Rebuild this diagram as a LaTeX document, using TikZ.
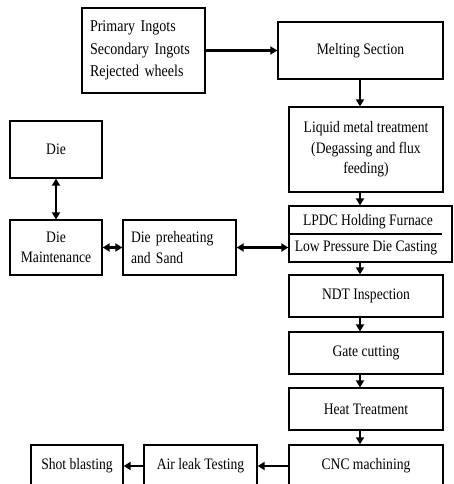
\documentclass[tikz,border=0pt]{standalone}
\usepackage{fontspec}
\setmainfont[FakeStretch=0.85]{Liberation Serif}
\usetikzlibrary{arrows.meta}
\begin{document}
\begin{tikzpicture}[x=1pt,y=-1pt,
  box/.style={draw=black, line width=1.3pt, inner sep=0pt, align=center,
    font=\fontsize{16}{20.5}\selectfont},
  flow/.style={line width=2.2pt, -{Triangle[length=7pt,width=8pt]}},
  flow2/.style={line width=2.2pt, {Triangle[length=7pt,width=8pt]}-{Triangle[length=7pt,width=8pt]}}]
\useasboundingbox[fill=white] (0,0) rectangle (453,484);
% source
\node[box, minimum width=123, minimum height=85, text width=107, inner xsep=8, align=left,
  font=\fontsize{16.5}{22.5}\selectfont] (src) at (143.5,50.5) {Primary Ingots\\Secondary Ingots\\Rejected wheels};
\node[box, minimum width=165, minimum height=57] (melt) at (360.5,50.5) {Melting Section};
\node[box, minimum width=154, minimum height=85] (liq) at (366,149.5) {Liquid metal treatment\\(Degassing and flux\\feeding)};
\node[box, minimum width=163, minimum height=56] (lpdc) at (370.5,234) {};
\node (lpdc1) at (368,222) {\fontsize{16}{20}\selectfont LPDC Holding Furnace};
\node (lpdc2) at (366,248) {\fontsize{16}{20}\selectfont Low Pressure Die Casting};
\draw[line width=1.3pt] (lpdc.west) -- ++(154,0) coordinate (lpdcdiv);
\node[box, minimum width=154, minimum height=42] (ndt) at (366,296) {NDT Inspection};
\node[box, minimum width=154, minimum height=42] (gate) at (366,353) {Gate cutting};
\node[box, minimum width=154, minimum height=42] (heat) at (366,409) {Heat Treatment};
\node[box, minimum width=154, minimum height=42] (cnc) at (366,466) {CNC machining};
\node[box, minimum width=113, minimum height=42] (air) at (200.5,466) {Air leak Testing};
\node[box, minimum width=92, minimum height=42] (shot) at (77,466) {Shot blasting};
\node[box, minimum width=92, minimum height=57] (die) at (56,149.5) {Die};
\node[box, minimum width=92, minimum height=55] (maint) at (56,247.5) {Die\\Maintenance};
\node[box, minimum width=113, minimum height=55, text width=97, inner xsep=8, align=left] (pre) at (179.5,247.5) {Die preheating\\and Sand};
% connectors
\draw[flow] (src.east) -- (melt.west);
\draw[flow] (melt.south -| 360,0) -- (liq.north -| 360,0);
\draw[flow] (liq.south -| 360,0) -- (lpdc.north -| 360,0);
\draw[flow] (lpdc.south -| 360,0) -- (ndt.north -| 360,0);
\draw[flow] (ndt.south -| 360,0) -- (gate.north -| 360,0);
\draw[flow] (gate.south -| 360,0) -- (heat.north -| 360,0);
\draw[flow] (heat.south -| 360,0) -- (cnc.north -| 360,0);
\draw[flow] (cnc.west) -- (air.east);
\draw[flow] (air.west) -- (shot.east);
\draw[flow2] (die.south) -- (maint.north);
\draw[flow2] (maint.east) -- (pre.west);
\draw[flow2] (pre.east) -- (lpdc.west |- pre.east);
\end{tikzpicture}
\end{document}
